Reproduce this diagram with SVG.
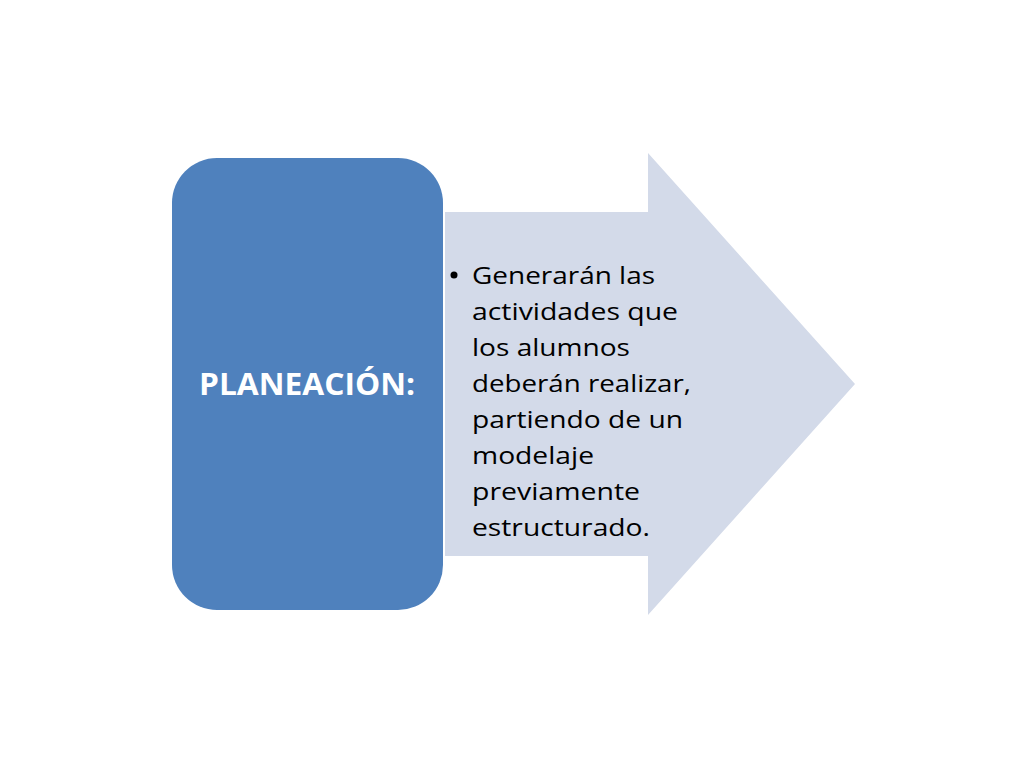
<svg xmlns="http://www.w3.org/2000/svg" width="1024" height="768" viewBox="0 0 1024 768">
<style>
.body{font-family:"Open Sans","Liberation Sans",sans-serif;font-size:24px;fill:#000}
.title{font-family:"Open Sans","Liberation Sans",sans-serif;font-size:30px;font-weight:bold;fill:#fff}
</style>
<rect width="1024" height="768" fill="#fff"/>
<g id="arrow">
<polygon points="445,212 648,212 648,153 855,384 648,615 648,556 445,556" fill="#D3DAE9"/>
<circle cx="454" cy="275" r="3.5" fill="#000"/>
<text class="body" x="472" y="284" textLength="183" lengthAdjust="spacingAndGlyphs">Generarán las</text>
<text class="body" x="472" y="320" textLength="206" lengthAdjust="spacingAndGlyphs">actividades que</text>
<text class="body" x="472" y="356" textLength="158" lengthAdjust="spacingAndGlyphs">los alumnos</text>
<text class="body" x="472" y="392" textLength="219" lengthAdjust="spacingAndGlyphs">deberán realizar,</text>
<text class="body" x="472" y="428" textLength="211" lengthAdjust="spacingAndGlyphs">partiendo de un</text>
<text class="body" x="472" y="464" textLength="122" lengthAdjust="spacingAndGlyphs">modelaje</text>
<text class="body" x="472" y="500" textLength="168" lengthAdjust="spacingAndGlyphs">previamente</text>
<text class="body" x="472" y="536" textLength="178" lengthAdjust="spacingAndGlyphs">estructurado.</text>
</g>
<g id="planeacion">
<rect x="172" y="158" width="271" height="452" rx="45" ry="45" fill="#4F81BD"/>
<text class="title" x="199" y="395" textLength="216" lengthAdjust="spacingAndGlyphs">PLANEACIÓN:</text>
</g>
</svg>
